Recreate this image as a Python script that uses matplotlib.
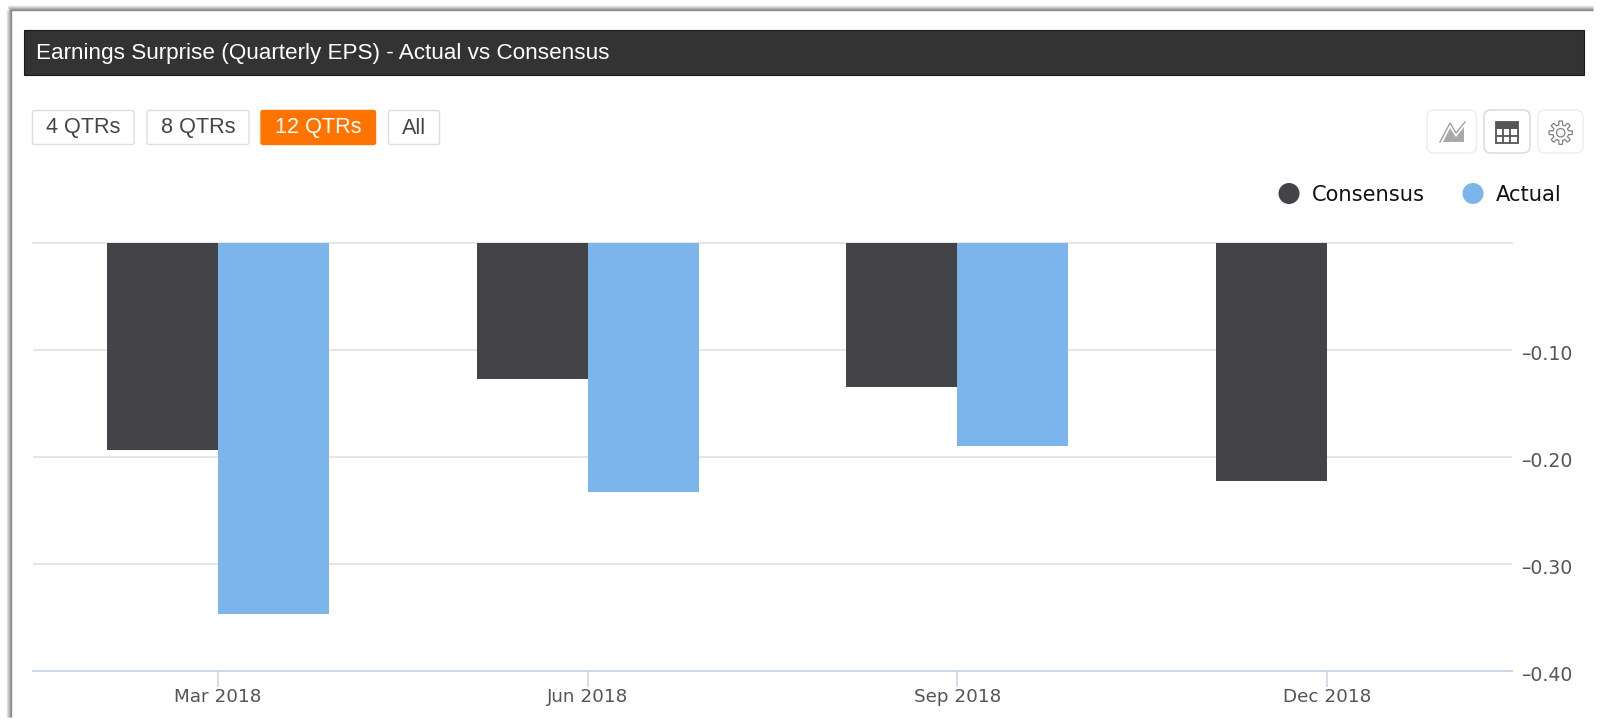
import matplotlib
matplotlib.use('Agg')

import matplotlib.pyplot as plt
import matplotlib.transforms as mtrans
import numpy as np
from matplotlib.patches import Rectangle, FancyBboxPatch, Polygon, Circle
from matplotlib.lines import Line2D

# data
quarters  = ['Mar 2018', 'Jun 2018', 'Sep 2018', 'Dec 2018']
consensus = [-0.193, -0.127, -0.135, -0.222]
actual    = [-0.347, -0.233, -0.190]
yticks    = [-0.10, -0.20, -0.30, -0.40]
ylabels   = ['\u20130.10', '\u20130.20', '\u20130.30', '\u20130.40']
buttons   = ['4 QTRs', '8 QTRs', '12 QTRs', 'All']

DARK  = '#434348'
BLUE  = '#7cb5ec'
W, H  = 1600, 724

fig = plt.figure(figsize=(W/100, H/100), dpi=100, facecolor='white')

# overlay in pixel coordinates for the page furniture
bg = fig.add_axes([0, 0, 1, 1])
bg.set_xlim(0, W)
bg.set_ylim(H, 0)
bg.axis('off')

# screenshot shadow, top and left, fading outwards
shades = ['#e4e4e4', '#d0d0d0', '#b8b8b8', '#a0a0a0', '#8a8a8a']
for i, c in enumerate(shades):
  bg.add_line(Line2D([7+i*0.5, 1593], [6+i, 6+i], color=c, lw=1, solid_capstyle='butt'))
for i, c in enumerate(shades):
  bg.add_line(Line2D([6.5+i, 6.5+i], [10, 717], color=c, lw=1, solid_capstyle='butt'))

# title bar
bg.add_patch(Rectangle((24, 29.5), 1560, 45.5, fc='#333333', ec='#1a1a1a', lw=0.8))
bg.text(36, 54, 'Earnings Surprise (Quarterly EPS) - Actual vs Consensus',
        color='white', fontsize=16.2, family='Liberation Sans', va='center')

# range buttons
def button(x0, x1, label, active=False):
  fc = '#ff7300' if active else 'white'
  ec = '#ff7300' if active else '#dedede'
  bg.add_patch(FancyBboxPatch((x0, 110.5), x1-x0, 34, boxstyle='round,pad=0,rounding_size=2',
                              fc=fc, ec=ec, lw=1))
  bg.text((x0+x1)/2, 128, label, color='white' if active else '#444444',
          fontsize=15.6, family='Liberation Sans', ha='center', va='center')

button(32.5, 134, buttons[0])
button(147, 249, buttons[1])
button(261, 375.5, buttons[2], active=True)
button(388.5, 439.5, buttons[3])

# icon buttons
def icon_box(x0, x1, ec):
  bg.add_patch(FancyBboxPatch((x0+3, 113), x1-x0-6, 37, boxstyle='round,pad=3,rounding_size=7',
                              fc='white', ec=ec, lw=1))

icon_box(1427, 1476.5, '#ececec')
icon_box(1484, 1530, '#d8d8d8')
icon_box(1538, 1583, '#ececec')

# area chart icon
bg.add_patch(Polygon([[1443, 142], [1450, 128], [1456, 137], [1464, 127], [1464, 142]],
                     closed=True, fc='#a9a9a9', ec='none'))
bg.add_line(Line2D([1440, 1450, 1456, 1465], [142, 123, 133, 122], color='#a0a0a0', lw=1))

# table icon
bg.add_patch(Rectangle((1496, 122), 21.5, 20.5, fc='white', ec='#555555', lw=1.3))
bg.add_patch(Rectangle((1496, 122), 21.5, 7, fc='#555555', ec='none'))
for gx in [1503.2, 1510.4]:
  bg.add_line(Line2D([gx, gx], [129, 142], color='#555555', lw=1.3))
bg.add_line(Line2D([1496, 1517.5], [135.7, 135.7], color='#555555', lw=1.3))

# gear icon
ang = np.linspace(0, 2*np.pi, 161)
rad = 9.8 + 1.9*np.clip(3*np.cos(8*ang), -1, 1)
bg.add_patch(Polygon(np.c_[1560.7 + rad*np.cos(ang), 132.7 + rad*np.sin(ang)], closed=True,
                     fc='none', ec='#808080', lw=0.9))
bg.add_patch(Circle((1560.7, 132.7), 4.2, fc='none', ec='#808080', lw=0.9))

# legend
bg.add_patch(Circle((1289, 193.5), 10.5, fc=DARK, ec='none'))
bg.text(1312, 195, 'Consensus', color='#111111', fontsize=15.1, family='DejaVu Sans', va='center')
bg.add_patch(Circle((1473, 193.5), 10.5, fc=BLUE, ec='none'))
bg.text(1496, 195, 'Actual', color='#111111', fontsize=15.1, family='DejaVu Sans', va='center')

# chart
left, right, top, bottom = 33, 1512, 243, 671
ax = fig.add_axes([left/W, 1 - bottom/H, (right-left)/W, (bottom-top)/H])
ax.patch.set_alpha(0)

x = np.arange(len(quarters))
width = 0.30
ax.bar(x - width/2, consensus, width, color=DARK, zorder=3)
ax.bar(x[:len(actual)] + width/2, actual, width, color=BLUE, zorder=3)

ax.set_xlim(-0.5, 3.5)
ax.set_ylim(-0.40, 0)
ax.set_xticks(x)
ax.set_xticklabels(quarters, fontsize=13.2, color='#555555', family='DejaVu Sans')
ax.yaxis.tick_right()
ax.set_yticks(yticks)
ax.set_yticklabels(ylabels, fontsize=13.6, color='#555555', family='DejaVu Sans')
ax.grid(axis='y', color='#e6e6e6', lw=1.4, zorder=0)
ax.axhline(0, color='#e6e6e6', lw=1.4, zorder=1, clip_on=False)

for s in ['top', 'left', 'right']:
  ax.spines[s].set_visible(False)
ax.spines['bottom'].set_color('#ccd6eb')
ax.spines['bottom'].set_linewidth(1.4)
ax.tick_params(axis='x', length=11.5, width=1.2, color='#ccd6eb', pad=0.5)
ax.tick_params(axis='y', length=0, pad=6.5)

# labels sit a little under their gridlines, has to come after tick_params
down = mtrans.ScaledTranslation(0, -1.5/72, fig.dpi_scale_trans)
for t in ax.get_yticklabels():
  t.set_transform(t.get_transform() + down)

plt.savefig('out.png', dpi=100)
plt.close()
